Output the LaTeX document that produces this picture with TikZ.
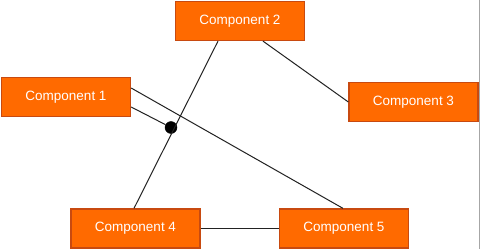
\documentclass[tikz,border=0pt]{standalone}
\usepackage{fontspec}
\setmainfont{Liberation Sans}
\usetikzlibrary{calc}
\definecolor{compfill}{HTML}{FF6A00}
\definecolor{compedge}{HTML}{C84A10}
\definecolor{wire}{HTML}{222222}
\tikzset{
  comp/.style={draw=compedge, line width=1.3pt, fill=compfill, text=white,
    minimum width=129pt, minimum height=39pt, inner sep=0pt,
    font=\fontsize{13.5}{16}\selectfont},
  wireline/.style={draw=wire, line width=1pt},
  junction/.style={circle, fill=black, draw=black, minimum size=12pt, inner sep=0pt}
}
\begin{document}
\begin{tikzpicture}[x=1pt, y=-1pt]
  \useasboundingbox (0,0) rectangle (480,249);
  \fill[white] (0,0) rectangle (480,249);
  % right frame edge
  \draw[gray!70, line width=0.8pt] (479.4,0) -- (479.4,249);

  % components
  \node[comp] (c2) at (240,21) {Component 2};
  \node[comp] (c1) at (66,97) {Component 1};
  \node[comp] (c3) at (413.5,102) {Component 3};
  \node[comp] (c4) at (135.5,228.5) {Component 4};
  \node[comp] (c5) at (344,228.5) {Component 5};

  % junction point
  \node[junction] (j) at (171,127.5) {};

  % connectors
  \draw[wireline] ([xshift=-22pt]c2.south) -- ([xshift=-1.5pt]c4.north);
  \draw[wireline] ([xshift=23pt]c2.south) -- (c3.west);
  \draw[wireline] ([yshift=9pt]c1.east) -- ([xshift=-1pt]c5.north);
  \draw[wireline] ([yshift=-10pt]c1.east) -- (j);
  \draw[wireline] (c4.east) -- (c5.west);
\end{tikzpicture}
\end{document}
